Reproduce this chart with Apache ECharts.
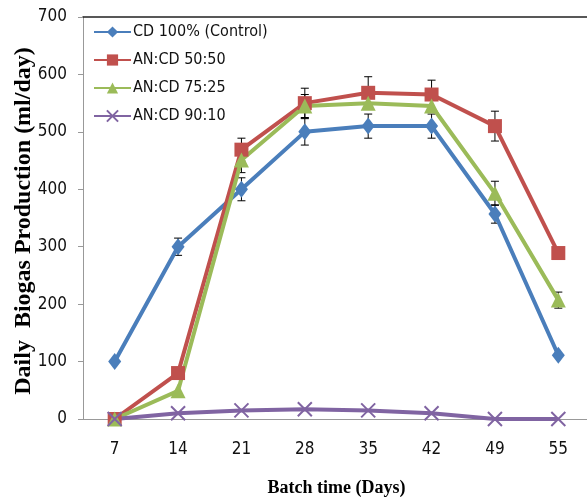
<!DOCTYPE html>
<html><head><meta charset="utf-8">
<script src="https://cdn.jsdelivr.net/npm/echarts@6/dist/echarts.min.js"></script>
<style>html,body{margin:0;padding:0;background:#fff}#c{width:587px;height:501px}</style>
</head><body><div id="c"></div>
<script>
const categories = ['7','14','21','28','35','42','49','55'];
const yTicks = [0,100,200,300,400,500,600,700];
const cd100 = [100,300,400,500,510,510,357,111];
const an5050 = [0,80,469,550,568,565,510,289];
const an7525 = [0,49,451,545,550,545,393,207];
const an9010 = [0,10,15,17,15,10,0,0];
// error magnitudes (null = none visible)
const cd100Err = [null,15,20,23,21,21,16,null];
const an5050Err = [null,null,20,26,28,25,26,null];
const an7525Err = [null,null,22,20,null,null,21,14];

const font = '"DejaVu Sans Condensed","Liberation Sans",sans-serif';
const serif = '"Liberation Serif","DejaVu Serif",serif';
const colors = ['#4A7EBB','#C0504D','#9BBB59','#8064A2'];

function errData(vals, errs){
  const out=[];
  vals.forEach((v,i)=>{ if(errs[i]!=null) out.push([i, v-errs[i], v+errs[i]]); });
  return out;
}
function errSeries(vals, errs){
  return {
    type:'custom', z:1, silent:true,
    data: errData(vals, errs),
    renderItem:function(params, api){
      const x=api.value(0);
      const lo=api.coord([x, api.value(1)]);
      const hi=api.coord([x, api.value(2)]);
      const w=4;
      const st={stroke:'#000', lineWidth:1};
      return {type:'group', children:[
        {type:'line', shape:{x1:lo[0],y1:lo[1],x2:hi[0],y2:hi[1]}, style:st},
        {type:'line', shape:{x1:lo[0]-w,y1:lo[1],x2:lo[0]+w,y2:lo[1]}, style:st},
        {type:'line', shape:{x1:hi[0]-w,y1:hi[1],x2:hi[0]+w,y2:hi[1]}, style:st}
      ]};
    }
  };
}
function lineSeries(name, data, color, symbol, size, extra){
  return Object.assign({
    name, type:'line', data, symbol, symbolSize:size, z:3,
    lineStyle:{color, width:4},
    itemStyle:{color},
    emphasis:{disabled:true}
  }, extra||{});
}

const chart = echarts.init(document.getElementById('c'));
chart.setOption({
  animation:false,
  color:colors,
  grid:{left:83, top:17, width:507, height:402, containLabel:false, outerBoundsMode:'none'},
  legend:{
    orient:'vertical', left:93, top:24, padding:0, itemWidth:37, itemHeight:14, itemGap:12,
    textStyle:{fontFamily:font, fontSize:16, color:'#111', padding:[0,0,0,-3]},
    data:['CD 100% (Control)','AN:CD 50:50','AN:CD 75:25','AN:CD 90:10']
  },
  xAxis:[{
    type:'category', data:categories, boundaryGap:true,
    axisLine:{lineStyle:{color:'#999', width:1}},
    axisTick:{show:false},
    axisLabel:{fontFamily:font, fontSize:17, color:'#111', margin:22},
    name:'Batch time (Days)', nameLocation:'middle', nameGap:60, nameMoveOverlap:false,
    nameTextStyle:{fontFamily:serif, fontSize:18, fontWeight:'bold', color:'#000'}
  },{
    type:'category', position:'top', data:categories,
    axisLine:{lineStyle:{color:'#222', width:1.5}},
    axisTick:{show:false}, axisLabel:{show:false}
  }],
  yAxis:{
    type:'value', min:0, max:700, interval:100,
    axisLine:{show:true, lineStyle:{color:'#999'}},
    axisTick:{show:true, inside:false, length:5, lineStyle:{color:'#999'}},
    splitLine:{show:false},
    axisLabel:{fontFamily:font, fontSize:17, color:'#111', margin:16},
    name:'Daily  Biogas Production (ml/day)', nameLocation:'middle', nameGap:47, nameMoveOverlap:false,
    nameTextStyle:{fontFamily:serif, fontSize:24, fontWeight:'bold', color:'#000', padding:[0,0,0,-6]}
  },
  series:[
    errSeries(cd100, cd100Err),
    errSeries(an5050, an5050Err),
    errSeries(an7525, an7525Err),
    lineSeries('CD 100% (Control)', cd100, colors[0], 'diamond', [13,17]),
    lineSeries('AN:CD 50:50', an5050, colors[1], 'rect', 14),
    lineSeries('AN:CD 75:25', an7525, colors[2], 'triangle', 15),
    lineSeries('AN:CD 90:10', an9010, colors[3], 'path://M0,0L10,10M10,0L0,10', 14,
      {itemStyle:{color:colors[3], borderColor:colors[3], borderWidth:2}})
  ]
});
</script></body></html>
